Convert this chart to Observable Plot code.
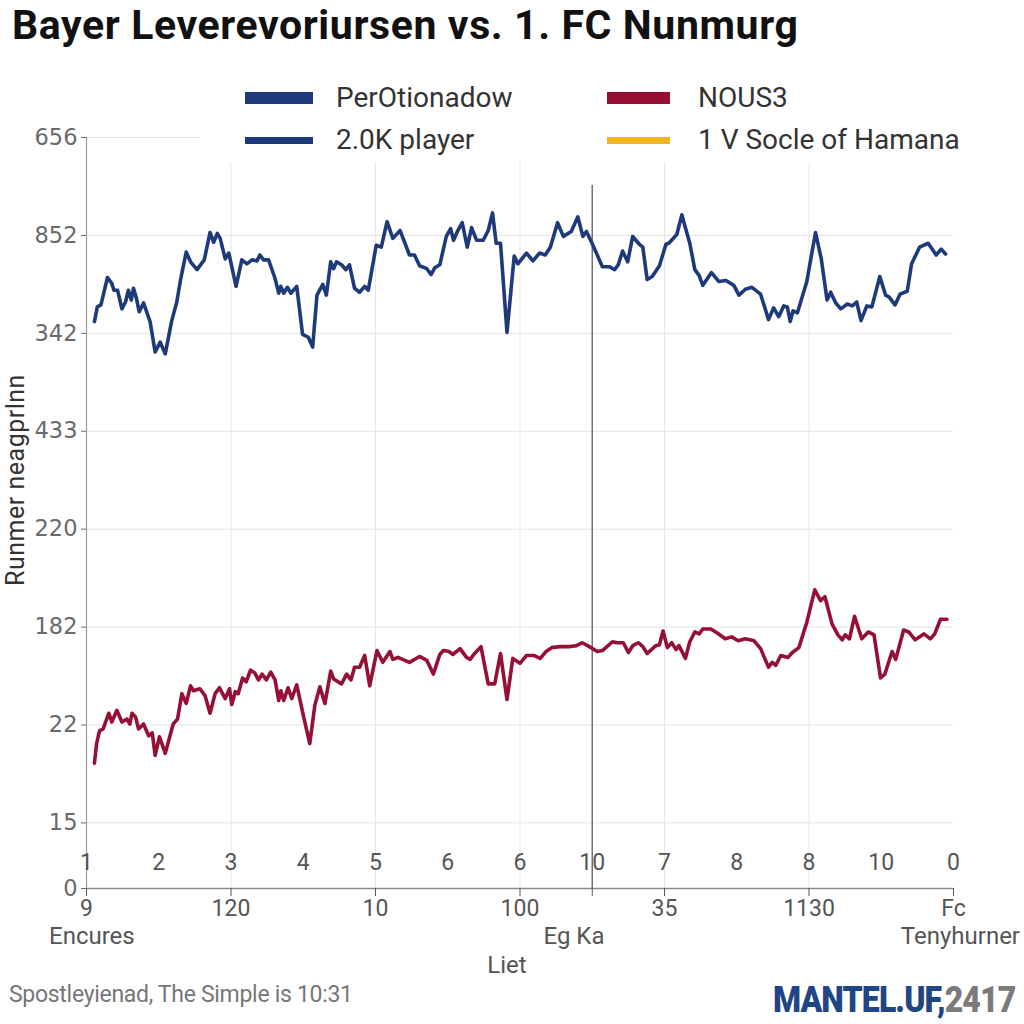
<!DOCTYPE html>
<html>
<head>
<meta charset="utf-8">
<script src="https://cdn.jsdelivr.net/npm/d3@7"></script>
<script src="https://cdn.jsdelivr.net/npm/@observablehq/plot@0.6"></script>
<style>
  html, body { margin: 0; padding: 0; background: #fff; }
  #wrap { position: relative; width: 1024px; height: 1024px; overflow: hidden; background: #fff; font-family: Roboto, "Open Sans", sans-serif; }
  .abs { position: absolute; white-space: nowrap; }
  #title { left: 12px; top: 3px; font-size: 41px; line-height: 44px; font-weight: 700; color: #111; letter-spacing: 0.6px; }
  #chart { position: absolute; left: 0; top: 60px; }
  #legend { left: 200px; top: 74px; width: 790px; height: 88px; background: #fff; }
  .sw { position: absolute; }
  .lt { position: absolute; font-size: 28px; color: #333; line-height: 30px; }
  .xt { font-size: 24px; color: #555; line-height: 28px; }
  #ytitle { left: 16px; top: 480px; font-size: 25px; line-height: 28px; color: #333; letter-spacing: 0.5px; transform: translate(-50%, -50%) rotate(-90deg); }
  #caption { left: 9px; top: 981px; font-size: 23px; line-height: 28px; color: #777; letter-spacing: -0.3px; }
  #logo { right: 9px; top: 982px; font-size: 36px; line-height: 36px; font-weight: 900; transform: scaleX(0.89); transform-origin: right center; letter-spacing: -1px; }
</style>
</head>
<body>
<div id="wrap">
  <div id="title" class="abs">Bayer Leverevoriursen vs. 1. FC Nunmurg</div>
  <div id="chart"></div>
  <div id="legend" class="abs"></div>
  <div id="ytitle" class="abs">Runmer neagprlnn</div>
  <div class="abs xt" style="left:49px; top:922px;">Encures</div>
  <div class="abs xt" style="left:574px; top:922px; transform:translateX(-50%);">Eg Ka</div>
  <div class="abs xt" style="right:4px; top:922px;">Tenyhurner</div>
  <div class="abs xt" style="left:507px; top:951px; transform:translateX(-50%);">Liet</div>
  <div id="caption" class="abs">Spostleyienad, The Simple is 10:31</div>
  <div id="logo" class="abs"><span style="color:#1f4585">MANTEL.UF,</span><span style="color:#7a7a7a">2417</span></div>
</div>
<script>
// ---- Data ----
const yTickValues = [0, 67, 167, 267, 367, 467, 567, 667, 767];
const yTickLabels = ["0", "15", "22", "182", "220", "433", "342", "852", "656"];

const xTopTicks = [0, 10, 20, 30, 40, 50, 60, 70, 80, 90, 100, 110, 120];
const xTopLabels = ["1", "2", "3", "4", "5", "6", "6", "10", "7", "8", "8", "10", "0"];

const xBottomTicks = [0, 20, 40, 60, 70, 80, 100, 120];
const xBottomLabels = ["9", "120", "10", "100", "", "35", "1130", "Fc"];

const xGridTicks = [20, 40, 60, 80, 100];
const markerMinute = 70;
const markerTop = 718;

const legendItems = [
  { label: "PerOtionadow", color: "#1f3a7a", col: 0, row: 0 },
  { label: "NOUS3", color: "#980f33", col: 1, row: 0 },
  { label: "2.0K player", color: "#1f3a7a", col: 0, row: 1 },
  { label: "1 V Socle of Hamana", color: "#f2b51f", col: 1, row: 1 }
];

const blueSeries = [
[1.1,579],[1.5,594],[2.0,596],[2.9,624],[3.5,618],[3.8,611],[4.3,611],[4.9,592],[5.4,599],[5.8,611],
[6.2,601],[6.5,613],[6.9,603],[7.3,589],[7.9,598],[8.8,579],[9.5,548],[10.2,558],[10.9,546],[11.8,580],
[12.5,599],[13.0,621],[13.8,650],[14.4,640],[15.3,632],[16.3,642],[17.1,670],[17.6,660],[18.1,669],[18.5,664],
[19.2,643],[19.7,649],[20.7,615],[21.5,642],[22.2,638],[22.9,642],[23.6,641],[24.0,647],[24.5,642],[25.2,642],
[26.1,623],[26.6,608],[26.9,615],[27.3,608],[27.8,614],[28.3,608],[29.1,615],[29.9,566],[30.7,563],[31.3,553],
[31.9,606],[32.7,617],[33.2,606],[33.8,640],[34.2,633],[34.6,640],[35.3,637],[35.9,632],[36.4,637],[37.1,613],
[37.8,609],[38.5,615],[39.0,611],[40.1,657],[40.8,655],[41.6,681],[42.4,664],[43.4,672],[44.7,647],[45.4,647],
[46.1,636],[47.1,633],[47.7,627],[48.2,634],[48.9,637],[49.8,666],[50.4,674],[50.8,662],[51.4,672],[52.0,680],
[52.7,655],[53.3,675],[54.0,662],[54.9,662],[55.6,672],[56.2,690],[56.7,659],[57.3,659],[58.2,568],[59.2,646],
[59.7,638],[60.9,649],[61.8,641],[62.7,649],[63.5,647],[64.2,655],[65.2,680],[66.0,666],[67.1,671],[68.0,686],
[68.7,666],[69.2,671],[70.1,657],[71.4,635],[72.4,635],[73.1,632],[73.6,637],[74.2,651],[74.9,640],[75.6,666],
[76.5,658],[77.0,655],[77.6,622],[78.3,625],[79.3,636],[80.2,658],[80.6,659],[81.7,668],[82.4,688],[83.0,672],
[83.5,659],[84.2,632],[84.8,626],[85.3,616],[86.5,629],[87.5,620],[88.5,621],[89.6,616],[90.3,606],[91.2,612],
[92.1,614],[93.3,607],[94.4,581],[95.1,593],[95.8,584],[96.5,595],[97.0,594],[97.4,579],[97.8,590],[98.4,588],
[99.7,620],[100.9,670],[101.7,643],[102.5,601],[103.0,609],[103.7,598],[104.4,592],[105.3,597],[106.0,595],[106.6,599],
[107.2,580],[108.0,595],[108.7,594],[109.8,625],[110.6,606],[111.1,604],[111.9,596],[112.6,607],[113.6,610],[114.2,638],
[115.3,655],[116.5,659],[117.6,647],[118.3,653],[118.9,648]
];

const redSeries = [
[1.1,128],[1.4,148],[1.8,161],[2.3,163],[3.1,179],[3.5,170],[4.2,182],[4.9,170],[5.6,173],[6.0,168],
[6.3,179],[6.8,175],[7.2,163],[7.9,168],[8.6,156],[9.1,159],[9.5,136],[10.1,155],[10.9,138],[12.0,168],
[12.6,173],[13.2,199],[13.8,189],[14.4,207],[14.8,202],[15.7,204],[16.4,197],[17.1,179],[17.8,199],[18.4,205],
[19.2,194],[19.8,204],[20.1,188],[20.6,201],[21.0,199],[21.6,215],[22.1,211],[22.7,223],[23.3,220],[23.8,213],
[24.3,219],[24.9,213],[25.5,221],[26.1,213],[26.6,192],[26.9,202],[27.3,192],[27.9,205],[28.4,194],[29.1,208],
[30.0,177],[30.9,148],[31.6,187],[32.3,206],[33.0,189],[33.8,222],[34.2,214],[35.3,209],[36.0,219],[36.6,213],
[37.1,226],[37.8,226],[38.5,238],[39.2,207],[40.2,243],[41.0,231],[42.0,242],[42.4,234],[43.1,236],[44.7,231],
[46.1,237],[47.1,233],[48.0,219],[48.9,239],[49.4,243],[50.2,242],[50.7,239],[51.7,245],[52.6,236],[53.1,234],
[53.6,239],[54.6,247],[55.6,209],[56.5,209],[57.3,240],[58.2,193],[59.0,235],[60.0,230],[60.9,238],[61.9,238],
[62.8,235],[63.6,242],[64.4,246],[65.5,247],[66.8,247],[67.8,248],[68.6,251],[69.6,247],[70.7,242],[71.4,243],
[72.8,252],[73.4,251],[74.3,251],[75.0,241],[75.6,248],[76.4,251],[77.0,247],[77.6,240],[78.8,248],[79.3,249],
[79.8,263],[80.4,246],[81.0,251],[81.6,244],[82.0,248],[82.9,235],[83.5,252],[84.2,262],[84.8,260],[85.3,265],
[86.4,265],[87.3,261],[88.4,255],[89.3,257],[90.2,253],[91.2,255],[92.4,253],[93.3,245],[94.4,226],[94.9,231],
[95.4,228],[96.1,238],[97.1,236],[97.7,241],[98.6,246],[99.7,272],[100.8,305],[101.6,294],[102.2,298],[103.2,270],
[104.0,259],[104.6,254],[105.0,259],[105.6,255],[106.3,278],[107.3,255],[108.2,262],[109.0,259],[109.9,215],[110.5,219],
[111.5,242],[112.0,234],[113.1,264],[113.8,262],[114.7,254],[115.9,260],[116.8,255],[117.4,260],[118.2,275],[119.1,275]
];

// ---- Chart ----
const yLabelMap = new Map(yTickValues.map((v, i) => [v, yTickLabels[i]]));
const xBottomMap = new Map(xBottomTicks.map((v, i) => [v, xBottomLabels[i]]));

const chart = Plot.plot({
  width: 1024,
  height: 890,
  marginTop: 77,
  marginBottom: 62,
  marginLeft: 86,
  marginRight: 71,
  x: { domain: [0, 120], axis: null },
  y: { domain: [0, 767], axis: null },
  style: { background: "transparent", fontFamily: "Roboto, sans-serif", overflow: "visible" },
  marks: [
    Plot.gridY(yTickValues.slice(1), { stroke: "#e4e4e4", strokeOpacity: 1 }),
    Plot.gridX(xGridTicks, { stroke: "#e6e6e6", strokeOpacity: 1 }),
    Plot.ruleX([markerMinute], { y1: 0, y2: markerTop, stroke: "#707070", strokeWidth: 1.5 }),
    Plot.ruleX([0], { stroke: "#9c9c9c", strokeWidth: 1.2 }),
    Plot.ruleY([0], { stroke: "#8a8a8a", strokeWidth: 1.3 }),
    Plot.axisY({
      ticks: yTickValues,
      tickFormat: d => yLabelMap.get(d),
      tickSize: 5,
      tickPadding: 4,
      fontSize: 22.5,
      fontFamily: "DejaVu Sans, sans-serif",
      color: "#6a6a6a",
      label: null
    }),
    Plot.axisX({
      ticks: xBottomTicks,
      tickFormat: d => xBottomMap.get(d),
      tickSize: 8,
      tickPadding: 3,
      fontSize: 23,
      color: "#555",
      label: null
    }),
    Plot.text(xTopLabels, {
      x: (d, i) => xTopTicks[i],
      text: d => d,
      frameAnchor: "bottom",
      dy: -19,
      fontSize: 23,
      fill: "#555"
    }),
    Plot.line(redSeries, { x: d => d[0], y: d => d[1], stroke: "#960f34", strokeWidth: 3.6, strokeLinejoin: "round", strokeLinecap: "round" }),
    Plot.line(blueSeries, { x: d => d[0], y: d => d[1], stroke: "#1f3a7a", strokeWidth: 3.6, strokeLinejoin: "round", strokeLinecap: "round" })
  ]
});
document.getElementById("chart").appendChild(chart);

// ---- Legend ----
const legend = document.getElementById("legend");
const colX = [45, 407];   // swatch offsets within legend box
const rowY = [24, 66];    // row centres within legend box
legendItems.forEach(item => {
  const sw = document.createElement("div");
  sw.className = "sw";
  const h = item.row === 0 ? 12 : 7;
  const w = item.col === 0 ? 68 : 63;
  sw.style.left = colX[item.col] + "px";
  sw.style.top = (rowY[item.row] - h / 2) + "px";
  sw.style.width = w + "px";
  sw.style.height = h + "px";
  sw.style.background = item.color;
  legend.appendChild(sw);
  const t = document.createElement("div");
  t.className = "lt";
  t.textContent = item.label;
  t.style.left = (colX[item.col] + 91) + "px";
  t.style.top = (rowY[item.row] - 15) + "px";
  legend.appendChild(t);
});
</script>
</body>
</html>
